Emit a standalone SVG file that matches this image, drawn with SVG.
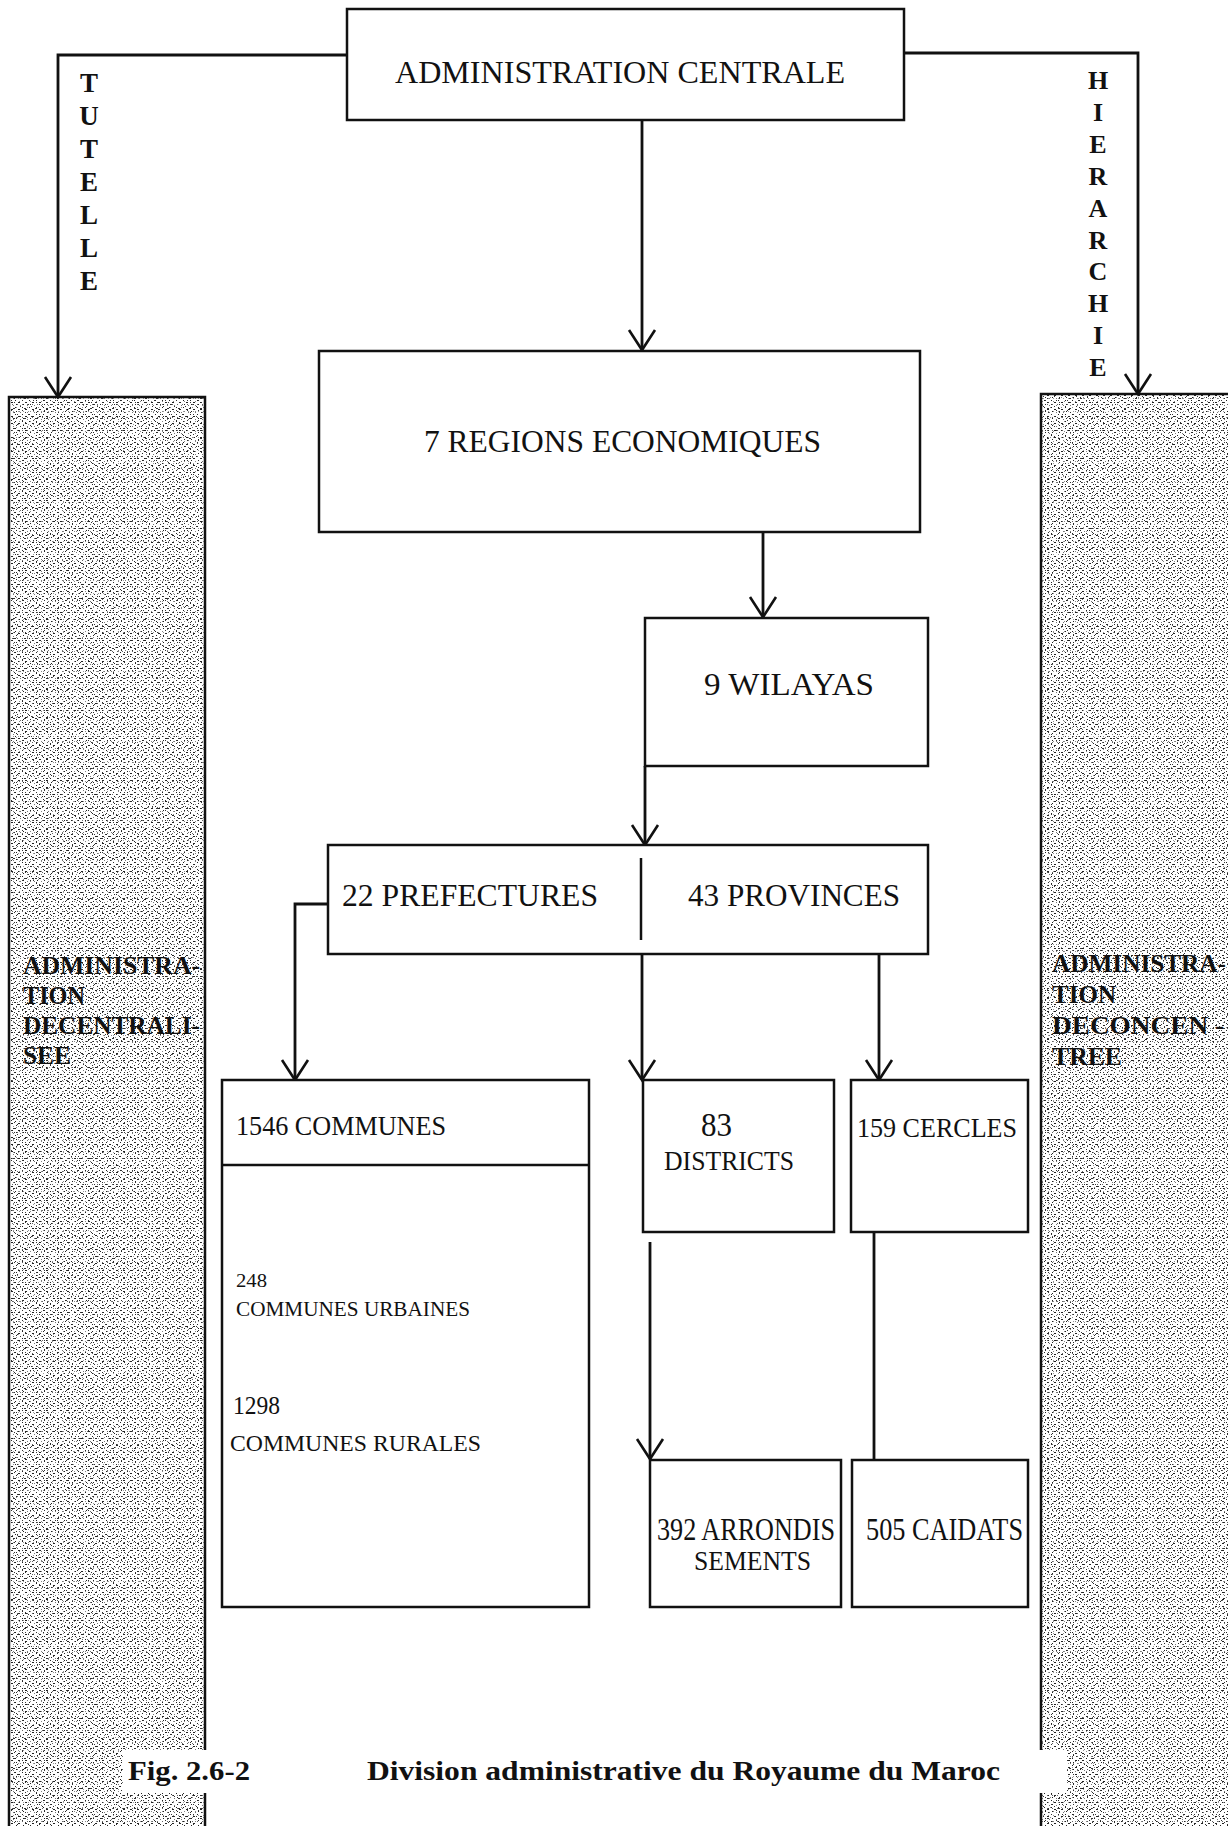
<svg xmlns="http://www.w3.org/2000/svg" width="1228" height="1826" viewBox="0 0 1228 1826">
  <defs>
    <style>
      .box { fill: #fff; stroke: #111; stroke-width: 2.5; }
      .rule { stroke: #111; stroke-width: 2.5; fill: none; }
      .conn { stroke: #111; stroke-width: 2.8; fill: none; }
      .lbl { font-family: "Liberation Serif", "Times New Roman", serif; fill: #111; }
      .bold { font-weight: bold; }
      .dots { shape-rendering: crispEdges; }
    </style>
    <marker id="arrow" markerUnits="userSpaceOnUse" markerWidth="40" markerHeight="40" viewBox="-25 -20 30 40" refX="0" refY="0" orient="auto" overflow="visible">
      <path d="M-20,-13 L0,0 L-20,13" fill="none" stroke="#111" stroke-width="2.6"/>
    </marker>
    <!-- overlapping dot screens give the stippled band texture -->
    <pattern id="dotA" patternUnits="userSpaceOnUse" width="7" height="7">
      <g class="dots" fill="#222">
        <rect x="1" y="1" width="1" height="1"/>
        <rect x="4" y="3" width="2" height="1"/>
        <rect x="2" y="5" width="1" height="1"/>
        <rect x="6" y="6" width="1" height="1" fill="#777"/>
      </g>
    </pattern>
    <pattern id="dotB" patternUnits="userSpaceOnUse" width="11" height="10">
      <g class="dots" fill="#333">
        <rect x="0" y="0" width="1" height="1"/>
        <rect x="3" y="2" width="1" height="1"/>
        <rect x="8" y="1" width="1" height="1" fill="#888"/>
        <rect x="6" y="4" width="1" height="1"/>
        <rect x="9" y="6" width="1" height="1"/>
        <rect x="2" y="8" width="2" height="1"/>
        <rect x="5" y="7" width="1" height="1" fill="#888"/>
      </g>
    </pattern>
    <pattern id="dotC" patternUnits="userSpaceOnUse" width="5" height="13">
      <g class="dots" fill="#666">
        <rect x="2" y="1" width="1" height="1"/>
        <rect x="3" y="8" width="1" height="1" fill="#999"/>
      </g>
    </pattern>
  </defs>

  <rect x="0" y="0" width="1228" height="1826" fill="#fff"/>

  <!-- side bands -->
  <g id="band-decentralisee">
    <rect x="9" y="397" width="196" height="1440" fill="#fff"/>
    <rect x="9" y="397" width="196" height="1440" fill="url(#dotA)"/>
    <rect x="9" y="397" width="196" height="1440" fill="url(#dotB)"/>
    <rect x="9" y="397" width="196" height="1440" fill="url(#dotC)"/>
    <path class="rule" d="M9 1826 V397 H205 V1826"/>
    <text class="lbl bold" font-size="26" x="23" y="974" textLength="177" lengthAdjust="spacingAndGlyphs">ADMINISTRA-</text>
    <text class="lbl bold" font-size="26" x="23" y="1004" textLength="62" lengthAdjust="spacingAndGlyphs">TION</text>
    <text class="lbl bold" font-size="26" x="23" y="1034" textLength="177" lengthAdjust="spacingAndGlyphs">DECENTRALI-</text>
    <text class="lbl bold" font-size="26" x="23" y="1064" textLength="48" lengthAdjust="spacingAndGlyphs">SEE</text>
  </g>

  <g id="band-deconcentree">
    <rect x="1041" y="394" width="200" height="1440" fill="#fff"/>
    <rect x="1041" y="394" width="200" height="1440" fill="url(#dotA)"/>
    <rect x="1041" y="394" width="200" height="1440" fill="url(#dotB)"/>
    <rect x="1041" y="394" width="200" height="1440" fill="url(#dotC)"/>
    <path class="rule" d="M1041 1826 V394 H1228"/>
    <text class="lbl bold" font-size="26" x="1052" y="972" textLength="174" lengthAdjust="spacingAndGlyphs">ADMINISTRA-</text>
    <text class="lbl bold" font-size="26" x="1052" y="1003" textLength="64" lengthAdjust="spacingAndGlyphs">TION</text>
    <text class="lbl bold" font-size="26" x="1052" y="1034" textLength="172" lengthAdjust="spacingAndGlyphs">DECONCEN -</text>
    <text class="lbl bold" font-size="26" x="1052" y="1065" textLength="70" lengthAdjust="spacingAndGlyphs">TREE</text>
  </g>

  <!-- connectors -->
  <g id="connectors">
    <path class="conn" d="M347 55 H58 V397" marker-end="url(#arrow)"/>
    <path class="conn" d="M904 53 H1138 V394" marker-end="url(#arrow)"/>
    <path class="conn" d="M642 120 V350" marker-end="url(#arrow)"/>
    <path class="conn" d="M763 532 V617" marker-end="url(#arrow)"/>
    <path class="conn" d="M645 766 V845" marker-end="url(#arrow)"/>
    <path class="conn" d="M328 904 H295 V1080" marker-end="url(#arrow)"/>
    <path class="conn" d="M642 954 V1080" marker-end="url(#arrow)"/>
    <path class="conn" d="M879 954 V1080" marker-end="url(#arrow)"/>
    <path class="conn" d="M650 1242 V1459" marker-end="url(#arrow)"/>
    <path class="conn" d="M874 1232 V1460"/>
  </g>

  <!-- vertical link labels -->
  <g id="label-tutelle" class="lbl bold" font-size="27" text-anchor="middle">
    <text x="89" y="92">T</text>
    <text x="89" y="125">U</text>
    <text x="89" y="158">T</text>
    <text x="89" y="191">E</text>
    <text x="89" y="224">L</text>
    <text x="89" y="257">L</text>
    <text x="89" y="290">E</text>
  </g>
  <g id="label-hierarchie" class="lbl bold" font-size="26" text-anchor="middle">
    <text x="1098" y="89">H</text>
    <text x="1098" y="121">I</text>
    <text x="1098" y="153">E</text>
    <text x="1098" y="185">R</text>
    <text x="1098" y="217">A</text>
    <text x="1098" y="249">R</text>
    <text x="1098" y="280">C</text>
    <text x="1098" y="312">H</text>
    <text x="1098" y="344">I</text>
    <text x="1098" y="376">E</text>
  </g>

  <!-- nodes -->
  <g id="administration-centrale">
    <rect class="box" x="347" y="9" width="557" height="111"/>
    <text class="lbl" font-size="31" x="395" y="83" textLength="450" lengthAdjust="spacingAndGlyphs">ADMINISTRATION CENTRALE</text>
  </g>

  <g id="regions-economiques">
    <rect class="box" x="319" y="351" width="601" height="181"/>
    <text class="lbl" font-size="32" x="424" y="452" textLength="397" lengthAdjust="spacingAndGlyphs">7 REGIONS ECONOMIQUES</text>
  </g>

  <g id="wilayas">
    <rect class="box" x="645" y="618" width="283" height="148"/>
    <text class="lbl" font-size="32" x="704" y="695" textLength="170" lengthAdjust="spacingAndGlyphs">9 WILAYAS</text>
  </g>

  <g id="prefectures-provinces">
    <rect class="box" x="328" y="845" width="600" height="109"/>
    <line class="rule" x1="641" y1="858" x2="641" y2="940"/>
    <text class="lbl" font-size="31" x="342" y="906" textLength="256" lengthAdjust="spacingAndGlyphs">22 PREFECTURES</text>
    <text class="lbl" font-size="31" x="688" y="906" textLength="212" lengthAdjust="spacingAndGlyphs">43 PROVINCES</text>
  </g>

  <g id="communes">
    <rect class="box" x="222" y="1080" width="367" height="527"/>
    <line class="rule" x1="222" y1="1165" x2="589" y2="1165"/>
    <text class="lbl" font-size="27" x="236" y="1135" textLength="210" lengthAdjust="spacingAndGlyphs">1546 COMMUNES</text>
    <text class="lbl" font-size="19" x="236" y="1287" textLength="31" lengthAdjust="spacingAndGlyphs">248</text>
    <text class="lbl" font-size="21" x="236" y="1316" textLength="234" lengthAdjust="spacingAndGlyphs">COMMUNES URBAINES</text>
    <text class="lbl" font-size="26" x="233" y="1414" textLength="47" lengthAdjust="spacingAndGlyphs">1298</text>
    <text class="lbl" font-size="24" x="230" y="1451" textLength="251" lengthAdjust="spacingAndGlyphs">COMMUNES RURALES</text>
  </g>

  <g id="districts">
    <rect class="box" x="643" y="1080" width="191" height="152"/>
    <text class="lbl" font-size="33" x="701" y="1136" textLength="31" lengthAdjust="spacingAndGlyphs">83</text>
    <text class="lbl" font-size="27" x="664" y="1170" textLength="130" lengthAdjust="spacingAndGlyphs">DISTRICTS</text>
  </g>

  <g id="cercles">
    <rect class="box" x="851" y="1080" width="177" height="152"/>
    <text class="lbl" font-size="28" x="857" y="1137" textLength="160" lengthAdjust="spacingAndGlyphs">159 CERCLES</text>
  </g>

  <g id="arrondissements">
    <rect class="box" x="650" y="1460" width="191" height="147"/>
    <text class="lbl" font-size="32" x="657" y="1540" textLength="178" lengthAdjust="spacingAndGlyphs">392 ARRONDIS</text>
    <text class="lbl" font-size="27" x="694" y="1570" textLength="117" lengthAdjust="spacingAndGlyphs">SEMENTS</text>
  </g>

  <g id="caidats">
    <rect class="box" x="852" y="1460" width="176" height="147"/>
    <text class="lbl" font-size="32" x="866" y="1540" textLength="157" lengthAdjust="spacingAndGlyphs">505 CAIDATS</text>
  </g>

  <!-- figure caption on a white strip over the bands -->
  <g id="caption">
    <rect x="123" y="1750" width="944" height="43" fill="#fff"/>
    <text class="lbl bold" font-size="28" x="128" y="1780" textLength="122" lengthAdjust="spacingAndGlyphs">Fig. 2.6-2</text>
    <text class="lbl bold" font-size="28" x="367" y="1780" textLength="633" lengthAdjust="spacingAndGlyphs">Division administrative du Royaume du Maroc</text>
  </g>
</svg>
